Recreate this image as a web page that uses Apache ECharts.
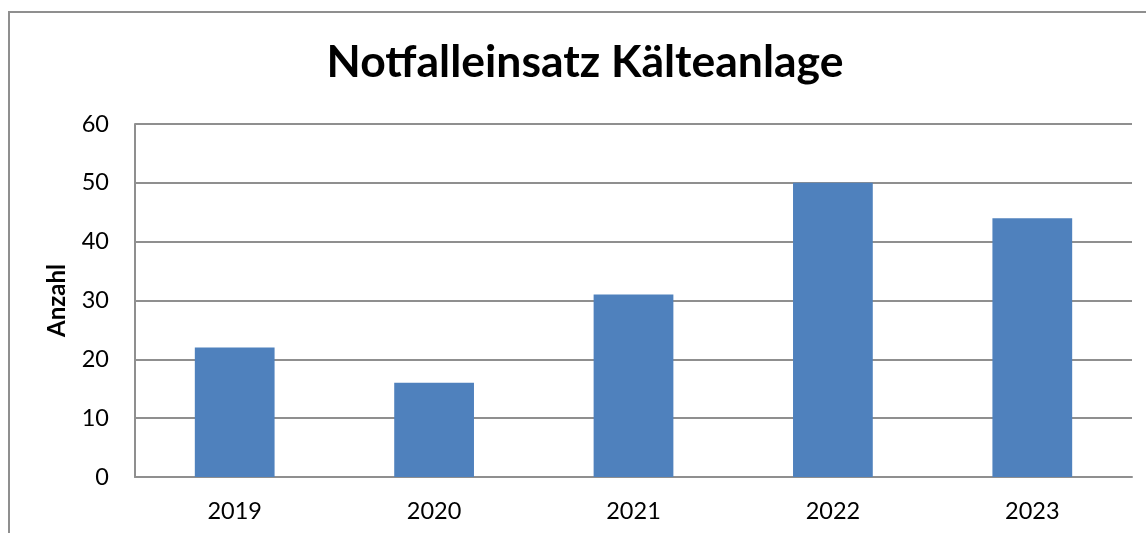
<!DOCTYPE html>
<html>
<head>
<meta charset="utf-8">
<script src="https://cdn.jsdelivr.net/npm/echarts@6/dist/echarts.min.js"></script>
<style>
  html, body { margin: 0; padding: 0; background: #fff; }
  #chart { width: 1146px; height: 533px; }
</style>
</head>
<body>
<div id="chart"></div>
<script>
// Daten aus dem Diagramm
const years = ['2019', '2020', '2021', '2022', '2023']
const einsaetze = [22, 16, 31, 50, 44]
const yTicks = [0, 10, 20, 30, 40, 50, 60]

const chartTitle = 'Notfalleinsatz Kälteanlage'
const yName = 'Anzahl'

const font = 'Lato, "Open Sans", sans-serif'
const lineGray = '#8f8f8f'

let chart = echarts.init(document.getElementById('chart'), null, { renderer: 'canvas' })

chart.setOption({
  animation: false,
  backgroundColor: '#fff',
  title: {
    text: chartTitle,
    left: 580,
    top: 35,
    textAlign: 'center',
    textStyle: {
      fontFamily: font,
      fontWeight: 'bold',
      fontSize: 44.5,
      color: '#000'
    }
  },
  graphic: [{
    type: 'rect',
    shape: { x: 9, y: 12, width: 1200, height: 600 },
    style: { fill: 'none', stroke: lineGray, lineWidth: 2 },
    silent: true
  }],
  grid: {
    left: 135,
    right: 14,
    top: 124,
    bottom: 56
  },
  xAxis: {
    type: 'category',
    data: years,
    axisLine: { lineStyle: { color: lineGray, width: 2 } },
    axisTick: { show: false },
    axisLabel: {
      margin: 22,
      fontFamily: font,
      fontSize: 23.5,
      color: '#000'
    }
  },
  yAxis: {
    type: 'value',
    min: yTicks[0],
    max: yTicks[yTicks.length - 1],
    interval: 10,
    name: yName,
    nameLocation: 'middle',
    nameGap: 66,
    nameRotate: 90,
    nameTextStyle: {
      fontFamily: font,
      fontWeight: 'bold',
      fontSize: 24,
      color: '#000'
    },
    axisLine: { show: true, lineStyle: { color: lineGray, width: 2 } },
    axisTick: { show: false },
    axisLabel: {
      margin: 26,
      fontFamily: font,
      fontSize: 23.5,
      color: '#000'
    },
    splitLine: { lineStyle: { color: lineGray, width: 2 } }
  },
  series: [{
    type: 'bar',
    data: einsaetze,
    barWidth: '40%',
    itemStyle: { color: '#4f81bd' }
  }]
})
</script>
</body>
</html>
